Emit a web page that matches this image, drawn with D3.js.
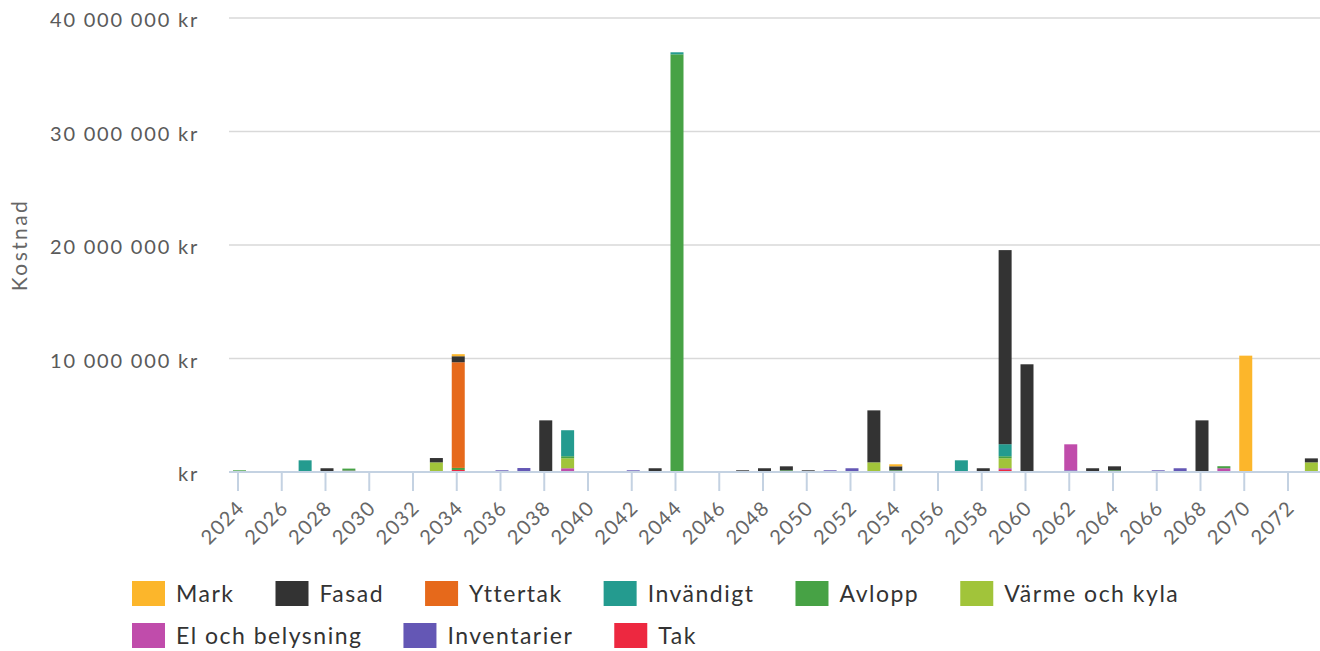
<!DOCTYPE html>
<html>
<head>
<meta charset="utf-8">
<script src="https://cdn.jsdelivr.net/npm/d3@7"></script>
<style>
  html, body { margin: 0; padding: 0; background: #fff; }
  svg { display: block; font-family: Lato, "Open Sans", sans-serif; }
</style>
</head>
<body>
<div id="chart"></div>
<script>
// years shown on the x axis
const firstYear = 2024;
const lastYear = 2073;
const yTicks = [0, 10000000, 20000000, 30000000, 40000000];

// series in legend order, each as [year, cost in kr]
const seriesNames = ["Mark", "Fasad", "Yttertak", "Invändigt", "Avlopp", "Värme och kyla", "El och belysning", "Inventarier", "Tak"];
const seriesColors = ["#fcb62b", "#333333", "#e6691b", "#249b8f", "#47a245", "#a1c43a", "#c04cab", "#6457b5", "#ed2840"];

const mark = [[2034, 180000], [2054, 180000], [2070, 10250000]];
const fasad = [[2028, 330000], [2033, 380000], [2034, 530000], [2038, 4550000], [2043, 330000], [2047, 150000], [2048, 330000],
  [2049, 350000], [2050, 150000], [2053, 4580000], [2054, 350000], [2058, 330000], [2059, 17100000], [2060, 9490000],
  [2063, 330000], [2064, 350000], [2068, 4550000], [2073, 350000]];
const yttertak = [[2034, 9310000]];
const invandigt = [[2027, 1030000], [2039, 2290000], [2044, 180000], [2057, 1030000], [2059, 1060000]];
const avlopp = [[2024, 150000], [2029, 180000], [2034, 180000], [2039, 180000], [2044, 36800000], [2049, 150000],
  [2054, 150000], [2059, 180000], [2064, 150000], [2069, 180000]];
const varme = [[2033, 850000], [2039, 880000], [2053, 850000], [2059, 880000], [2073, 850000]];
const el = [[2029, 120000], [2039, 330000], [2059, 150000], [2062, 2290000], [2069, 330000]];
const inventarier = [[2036, 150000], [2037, 350000], [2042, 150000], [2051, 150000], [2052, 330000], [2062, 150000],
  [2066, 150000], [2067, 330000]];
const tak = [[2034, 180000], [2059, 180000]];

const seriesData = [mark, fasad, yttertak, invandigt, avlopp, varme, el, inventarier, tak];

const width = 1320, height = 651;
const years = d3.range(firstYear, lastYear + 1);

// one row per year for d3.stack
const table = years.map(yr => {
  const row = { year: yr };
  seriesNames.forEach((name, i) => {
    const hit = seriesData[i].find(d => d[0] === yr);
    row[name] = hit ? hit[1] : 0;
  });
  return row;
});

// first legend item is drawn on top, so stack in reverse
const stackKeys = seriesNames.slice().reverse();
const stacked = d3.stack().keys(stackKeys)(table);
const color = d3.scaleOrdinal().domain(seriesNames).range(seriesColors);

const plotLeft = 229, plotRight = 1320, baseY = 472, topY = 18;

const x = d3.scaleLinear().domain([2024, 2072]).range([237.5, 1287.5]);
const y = d3.scaleLinear().domain([0, 40000000]).range([baseY, topY]);
const barW = 13;

const svg = d3.select("#chart").append("svg")
  .attr("width", width)
  .attr("height", height);

// grid
svg.append("g")
  .selectAll("line")
  .data(yTicks.filter(d => d > 0))
  .enter().append("line")
  .attr("x1", plotLeft).attr("x2", plotRight)
  .attr("y1", d => y(d)).attr("y2", d => y(d))
  .attr("stroke", "#d9d9d9")
  .attr("stroke-width", 1.5);

// y labels
const fmt = v => v === 0 ? "kr" : d3.format(",")(v).replace(/,/g, " ") + " kr";
svg.append("g")
  .selectAll("text")
  .data(yTicks)
  .enter().append("text")
  .attr("x", 199)
  .attr("y", d => y(d) + 2)
  .attr("dy", "0.35em")
  .attr("text-anchor", "end")
  .attr("fill", "#5a5a5a")
  .style("font-size", "20px")
  .style("letter-spacing", "1.8px")
  .text(fmt);

svg.append("text")
  .attr("transform", `translate(27, 245) rotate(-90)`)
  .attr("text-anchor", "middle")
  .attr("fill", "#666")
  .style("font-size", "21px")
  .style("letter-spacing", "2.4px")
  .text("Kostnad");

// bars
svg.append("g")
  .selectAll("g")
  .data(stacked)
  .enter().append("g")
  .attr("fill", d => color(d.key))
  .selectAll("rect")
  .data(d => d.filter(p => p[1] > p[0]))
  .enter().append("rect")
  .attr("x", d => x(d.data.year) + 2 - barW / 2)
  .attr("width", barW)
  .attr("y", d => y(d[1]))
  .attr("height", d => y(d[0]) - y(d[1]));

// x axis
const xAxis = d3.axisBottom(x)
  .tickValues(years.filter(yr => (yr - firstYear) % 2 === 0 && yr <= 2072))
  .tickFormat(d3.format("d"))
  .tickSize(19)
  .tickSizeOuter(0);

const gx = svg.append("g")
  .attr("transform", `translate(0, ${baseY})`)
  .call(xAxis);
gx.select(".domain").remove();
gx.selectAll(".tick line").attr("stroke", "#c4d2e2").attr("stroke-width", 2);
gx.selectAll(".tick text")
  .attr("fill", "#666")
  .style("font-size", "20px")
  .style("letter-spacing", "1.4px")
  .style("font-family", "Lato, sans-serif")
  .attr("text-anchor", "end")
  .attr("dy", null)
  .attr("y", 0)
  .attr("transform", "translate(8, 37) rotate(-45)");
gx.append("line")
  .attr("x1", plotLeft).attr("x2", plotRight)
  .attr("y1", 0).attr("y2", 0)
  .attr("stroke", "#c4d2e2")
  .attr("stroke-width", 2);

// legend, flowing items
const legend = svg.append("g");
let lx = 132, ly = 581;
seriesNames.forEach(name => {
  const item = legend.append("g");
  item.append("rect")
    .attr("width", 33).attr("height", 25)
    .attr("fill", color(name));
  const t = item.append("text")
    .attr("x", 44).attr("y", 13)
    .attr("dy", "0.35em")
    .attr("fill", "#333")
    .style("font-size", "23px")
    .style("letter-spacing", "1.5px")
    .text(name);
  const tw = t.node().getComputedTextLength();
  if (lx + 44 + tw > 1300) { lx = 132; ly += 42; }
  item.attr("transform", `translate(${lx}, ${ly})`);
  lx += 44 + tw + 41;
});
</script>
</body>
</html>
